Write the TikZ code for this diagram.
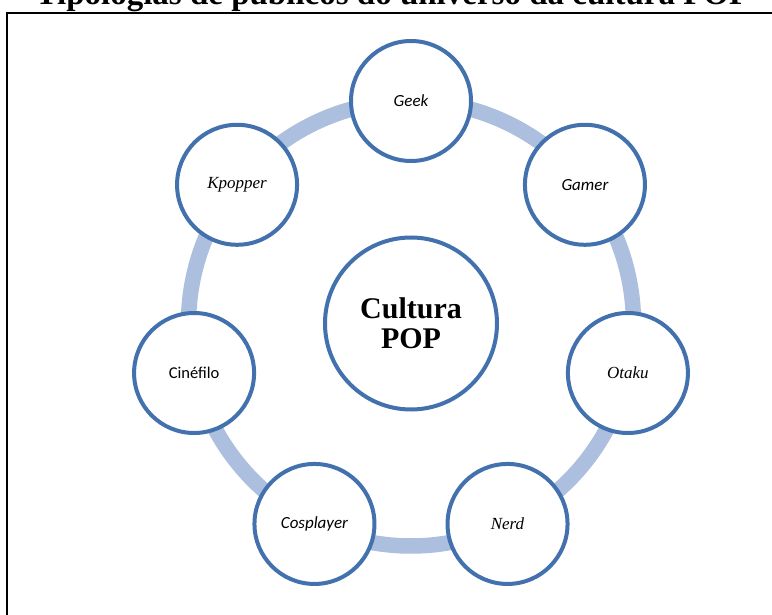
\documentclass[tikz,border=0pt]{standalone}
\usepackage{fontspec}
\setmainfont{Liberation Serif}
\newfontfamily\carl{Carlito}
\usetikzlibrary{backgrounds}
\definecolor{ringblue}{RGB}{172,191,222}
\definecolor{edgeblue}{RGB}{66,113,174}
\tikzset{
  member/.style={circle, draw=edgeblue, line width=4pt, fill=white,
    minimum size=120pt, inner sep=0pt, text=black},
  hub/.style={circle, draw=edgeblue, line width=4pt, fill=white,
    minimum size=172pt, inner sep=0pt, align=center,
    font=\fontsize{30}{30}\selectfont\bfseries},
  serifit/.style={font=\fontsize{17}{20}\selectfont\itshape},
  sansit/.style={font=\carl\fontsize{17}{20}\selectfont\itshape},
  sansup/.style={font=\carl\fontsize{16.5}{20}\selectfont},
  ring/.style={draw=ringblue, line width=15.5pt},
  frame/.style={draw=black, line width=1.5pt}
}
\begin{document}
\begin{tikzpicture}[x=1pt,y=1pt]
  \useasboundingbox (0,0) rectangle (772,-615);
  \clip (0,0) rectangle (772,-615);

  % title, partly cut by the page edge
  \node[anchor=base, inner sep=0pt, font=\fontsize{33}{36}\selectfont\bfseries]
    (title) at (392.5,-5) {Tipologias de públicos do universo da cultura POP};

  % frame
  \draw[frame] (7,-700) -- (7,-13) -- (800,-13);

  \begin{scope}[shift={(411,-323.5)}]
    \node[hub] (pop) at (0,0) {Cultura\\POP};
    \node[member, sansit]  (geek)      at (90:222.5)       {Geek};
    \node[member, sansit]  (gamer)     at (38.571:222.5)   {Gamer};
    \node[member, serifit] (otaku)     at (-12.857:222.5)  {Otaku};
    \node[member, serifit] (nerd)      at (-64.286:222.5)  {Nerd};
    \node[member, sansit]  (cosplayer) at (-115.714:222.5) {Cosplayer};
    \node[member, sansup]  (cinefilo)  at (-167.143:222.5) {Cinéfilo};
    \node[member, serifit] (kpopper)   at (-218.571:222.5) {Kpopper};

    % ring linking the members
    \begin{scope}[on background layer]
      \draw[ring] (geek.center)      arc[start angle=90,       end angle=38.571,   radius=222.5];
      \draw[ring] (gamer.center)     arc[start angle=38.571,   end angle=-12.857,  radius=222.5];
      \draw[ring] (otaku.center)     arc[start angle=-12.857,  end angle=-64.286,  radius=222.5];
      \draw[ring] (nerd.center)      arc[start angle=-64.286,  end angle=-115.714, radius=222.5];
      \draw[ring] (cosplayer.center) arc[start angle=-115.714, end angle=-167.143, radius=222.5];
      \draw[ring] (cinefilo.center)  arc[start angle=-167.143, end angle=-218.571, radius=222.5];
      \draw[ring] (kpopper.center)   arc[start angle=-218.571, end angle=-270,     radius=222.5];
    \end{scope}
  \end{scope}
\end{tikzpicture}
\end{document}
